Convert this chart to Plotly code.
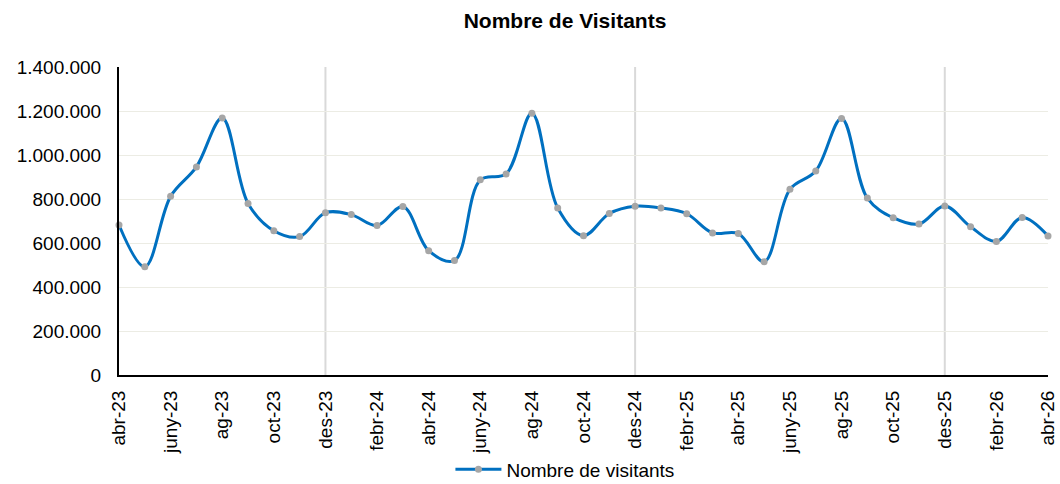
import plotly.graph_objects as go

months = ["abr-23", "maig-23", "juny-23", "jul-23", "ag-23", "set-23", "oct-23", "nov-23",
          "des-23", "gen-24", "febr-24", "març-24", "abr-24", "maig-24", "juny-24", "jul-24",
          "ag-24", "set-24", "oct-24", "nov-24", "des-24", "gen-25", "febr-25", "març-25",
          "abr-25", "maig-25", "juny-25", "jul-25", "ag-25", "set-25", "oct-25", "nov-25",
          "des-25", "gen-26", "febr-26", "març-26", "abr-26"]

visitants = [682000, 492000, 812000, 946000, 1168000, 780000, 656000, 629000,
             738000, 729000, 679000, 766000, 565000, 520000, 887000, 914000,
             1190000, 759000, 633000, 734000, 767000, 759000, 733000, 646000,
             643000, 515000, 844000, 927000, 1166000, 804000, 715000, 686000,
             768000, 674000, 607000, 716000, 632000]

tick_labels = months[::2]
december_labels = ["des-23", "des-24", "des-25"]

idx = list(range(len(months)))
tick_idx = [months.index(m) for m in tick_labels]
dec_idx = [months.index(m) for m in december_labels]

FONT = "Liberation Sans, Arial, sans-serif"

fig = go.Figure()
fig.add_trace(go.Scatter(
    x=idx, y=visitants, mode="lines+markers", name="Nombre de visitants",
    line=dict(color="#0070C0", width=3, shape="spline", smoothing=1),
    marker=dict(color="#A6A6A6", size=7),
    cliponaxis=False,
))

for d in dec_idx:
    fig.add_shape(type="line", xref="x", yref="y", x0=d, x1=d, y0=0, y1=1400000,
                  line=dict(color="#D9D9D9", width=2), layer="below")

fig.update_layout(
    width=1060, height=484,
    paper_bgcolor="white", plot_bgcolor="white",
    separators=",.",
    margin=dict(l=119, r=12, t=67, b=109, autoexpand=False),
    title=dict(text="<b>Nombre de Visitants</b>", x=0.533, xanchor="center",
               y=1 - 21 / 484, yanchor="middle",
               font=dict(family=FONT, size=21, color="black")),
    font=dict(family=FONT, color="black"),
    showlegend=True,
    legend=dict(orientation="h", x=0.48, xanchor="center", y=-0.245, yanchor="top",
                bgcolor="rgba(0,0,0,0)",
                font=dict(family=FONT, size=19, color="black"), itemwidth=46),
    xaxis=dict(range=[0, 36], tickmode="array", tickvals=tick_idx, ticktext=tick_labels,
               tickangle=-90, showgrid=False, zeroline=False,
               showline=True, linecolor="black", linewidth=2, ticks="",
               ticklabelstandoff=6, ticklabeloverflow="allow",
               tickfont=dict(family=FONT, size=19, color="black")),
    yaxis=dict(range=[0, 1400000], dtick=200000, tickformat=",d",
               showgrid=True, gridcolor="#ECECE4", gridwidth=1, zeroline=False,
               showline=True, linecolor="black", linewidth=2, ticks="",
               ticklabelstandoff=12,
               tickfont=dict(family=FONT, size=19, color="black")),
)

fig.write_html("out.html", config={"displayModeBar": False},
               post_script="document.body.style.margin='0';document.body.style.padding='0';")
